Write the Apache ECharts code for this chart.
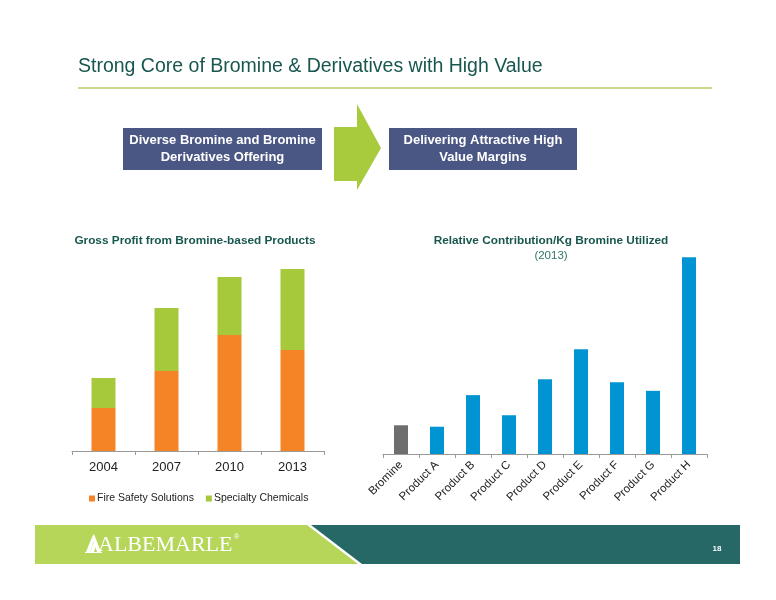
<!DOCTYPE html>
<html><head><meta charset="utf-8">
<script src="https://cdn.jsdelivr.net/npm/echarts@6/dist/echarts.min.js"></script>
<style>html,body{margin:0;padding:0;background:#fff}#c{width:776px;height:600px}</style>
</head><body><div id="c"></div>
<script>
// ---- data ----
const years = ['2004', '2007', '2010', '2013'];
const fireSafety = [43, 80, 116, 101];
const specialtyChemicals = [30, 63, 58, 81];
const products = ['Bromine', 'Product A', 'Product B', 'Product C', 'Product D', 'Product E', 'Product F', 'Product G', 'Product H'];
const contribution = [1.0, 0.95, 2.05, 1.35, 2.6, 3.65, 2.5, 2.2, 6.85];

const FONT = '"Liberation Sans", Arial, sans-serif';
const TEAL = '#17574f';
const chart = echarts.init(document.getElementById('c'), null, {renderer: 'canvas'});

const contribData = contribution.map((v, i) => i === 0 ? {value: v, itemStyle: {color: '#6d6e70'}} : v);

const catAxisCommon = {
  type: 'category',
  axisLine: {lineStyle: {color: '#9a9a9a', width: 1}},
  axisTick: {show: true, length: 4, lineStyle: {color: '#9a9a9a'}},
  splitLine: {show: false}
};

chart.setOption({
  animation: false,
  backgroundColor: '#fff',
  grid: [
    {left: 72, width: 252, top: 251, height: 200},
    {left: 383, width: 324, top: 253, height: 201}
  ],
  xAxis: [
    Object.assign({}, catAxisCommon, {gridIndex: 0, data: years,
      axisLabel: {color: '#222', fontFamily: FONT, fontSize: 13, margin: 10}}),
    Object.assign({}, catAxisCommon, {gridIndex: 1, data: products,
      axisLabel: {color: '#222', fontFamily: FONT, fontSize: 11.5, rotate: 45, margin: 9, interval: 0}})
  ],
  yAxis: [
    {type: 'value', gridIndex: 0, min: 0, max: 200, show: false},
    {type: 'value', gridIndex: 1, min: 0, max: 7, show: false}
  ],
  legend: {
    data: ['Fire Safety Solutions', 'Specialty Chemicals'],
    left: 84, top: 488, itemWidth: 6, itemHeight: 6, itemGap: 12,
    icon: 'rect',
    textStyle: {fontFamily: FONT, fontSize: 10.5, color: '#222', padding: [0, 0, 0, -3]}
  },
  series: [
    {name: 'Fire Safety Solutions', type: 'bar', stack: 'gp', xAxisIndex: 0, yAxisIndex: 0,
      data: fireSafety, barWidth: 24, itemStyle: {color: '#f58426'}},
    {name: 'Specialty Chemicals', type: 'bar', stack: 'gp', xAxisIndex: 0, yAxisIndex: 0,
      data: specialtyChemicals, barWidth: 24, itemStyle: {color: '#a6c93b'}},
    {name: 'Contribution', type: 'bar', xAxisIndex: 1, yAxisIndex: 1,
      data: contribData, barWidth: 14, itemStyle: {color: '#0094d2'}}
  ],
  graphic: [
    // Slide title
    {type: 'text', left: 78, top: 57, style: {text: 'Strong Core of Bromine & Derivatives with High Value',
      font: '19.5px ' + FONT, fill: TEAL}},
    {type: 'line', shape: {x1: 78, y1: 88, x2: 712, y2: 88}, style: {stroke: '#c6d98f', lineWidth: 2}},
    // Boxes
    {type: 'rect', shape: {x: 123, y: 128, width: 199, height: 42}, style: {fill: '#4a5683'}},
    {type: 'text', x: 222.5, y: 149, style: {text: 'Diverse Bromine and Bromine\nDerivatives Offering',
      font: 'bold 13px ' + FONT, fill: '#fff', align: 'center', verticalAlign: 'middle', lineHeight: 17}},
    {type: 'rect', shape: {x: 389, y: 128, width: 188, height: 42}, style: {fill: '#4a5683'}},
    {type: 'text', x: 483, y: 149, style: {text: 'Delivering Attractive High\nValue Margins',
      font: 'bold 13px ' + FONT, fill: '#fff', align: 'center', verticalAlign: 'middle', lineHeight: 17}},
    // Arrow
    {type: 'polygon', shape: {points: [[334, 127], [357, 127], [357, 104], [381, 148], [357, 190], [357, 181], [334, 181]]},
      style: {fill: '#a8cb3e'}},
    // Chart titles
    {type: 'text', x: 195, y: 241, style: {text: 'Gross Profit from Bromine-based Products',
      font: 'bold 11.8px ' + FONT, fill: TEAL, align: 'center', verticalAlign: 'middle'}},
    {type: 'text', x: 551, y: 241, style: {text: 'Relative Contribution/Kg Bromine Utilized',
      font: 'bold 11.8px ' + FONT, fill: TEAL, align: 'center', verticalAlign: 'middle'}},
    {type: 'text', x: 551, y: 256, style: {text: '(2013)',
      font: '11.5px ' + FONT, fill: '#2e7468', align: 'center', verticalAlign: 'middle'}},
    // Footer
    {type: 'polygon', shape: {points: [[35, 525], [307, 525], [358, 564], [35, 564]]}, style: {fill: '#b6d65a'}},
    {type: 'polygon', shape: {points: [[311, 525], [740, 525], [740, 564], [362, 564]]}, style: {fill: '#256866'}},
    // logo icon
    {type: 'polygon', shape: {points: [[86, 552], [92, 537], [94, 541], [90, 552]]}, style: {fill: '#fff'}},
    {type: 'polygon', shape: {points: [[90, 552], [94, 542], [96, 546], [94, 552]]}, style: {fill: '#fff'}},
    {type: 'polygon', shape: {points: [[92, 537], [94, 534], [101, 552], [97, 552]]}, style: {fill: '#fff'}},
    {type: 'line', shape: {x1: 85, y1: 552.5, x2: 102, y2: 552.5}, style: {stroke: '#fff', lineWidth: 1}},
    {type: 'text', x: 98, y: 545, style: {text: 'ALBEMARLE', font: '22px "Liberation Serif", "DejaVu Serif", serif',
      fill: '#fff', verticalAlign: 'middle'}},
    {type: 'text', x: 234, y: 537, style: {text: '®', font: '7px ' + FONT, fill: '#fff', verticalAlign: 'middle'}},
    {type: 'text', x: 717, y: 549, style: {text: '18', font: 'bold 8px ' + FONT, fill: '#fff', align: 'center', verticalAlign: 'middle'}}
  ]
});
</script>
</body></html>
